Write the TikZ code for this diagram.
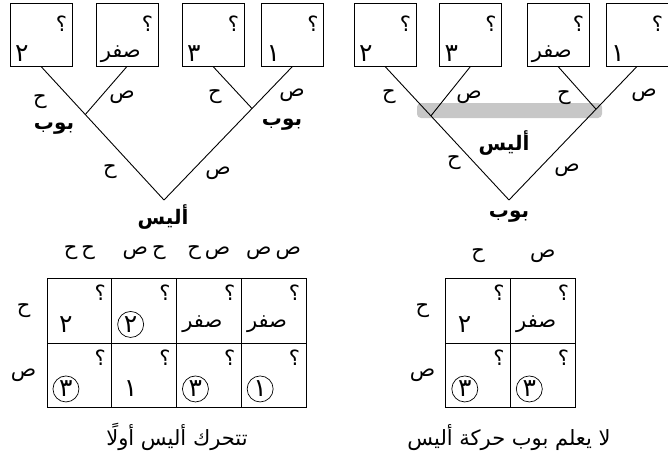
\documentclass[tikz,border=0pt]{standalone}
\usepackage{fontspec}
\usetikzlibrary{positioning,calc}
\TeXXeTstate=1
\newfontfamily\arabicfont[Script=Arabic]{DejaVu Sans}
\newcommand{\artext}[1]{\beginR #1\endR}
\newcommand{\digit}[1]{{\fontsize{25}{28}\selectfont #1}}
\def\boxwid{62pt}
\def\boxhgt{63pt}
\def\cellwid{64.7pt}
\def\cellhgt{64.5pt}

\begin{document}
\begin{tikzpicture}[x=1pt, y=-1pt,
            every node/.style={font=\arabicfont\fontsize{21}{25}\selectfont},
            leaf/.style={%
                draw, line width=0.9pt, inner sep=0pt,%
                minimum width=\boxwid, minimum height=\boxhgt%
            },
            cell/.style={%
                draw, line width=0.9pt, inner sep=0pt,%
                minimum width=\cellwid, minimum height=\cellhgt%
            },
            qmark/.style={inner sep=0pt},
            tpay/.style={anchor=west, inner sep=0pt, minimum width=14pt},
            mpay/.style={anchor=west, inner sep=0pt, minimum width=26pt},
            circled/.style={anchor=west, circle, draw, line width=0.7pt,%
                inner sep=0pt, minimum size=26pt},
            move/.style={inner sep=1pt},
            player/.style={inner sep=1pt,%
                font=\arabicfont\bfseries\fontsize{20}{24}\selectfont},
            branch/.style={line width=0.9pt},
            infoset/.style={fill=black!22, draw=none, rounded corners=4pt}
        ]
        \useasboundingbox (0,0) rectangle (668,455);

        % Left tree: Alice moves first
        \node (L1) [leaf] at (41,34.5) {};
        \node (L2) [leaf] at (127,34.5) {};
        \node (L3) [leaf] at (213,34.5) {};
        \node (L4) [leaf] at (292.5,34.5) {};

        \coordinate (aliceroot) at (164,200);
        \path (aliceroot) -- (L1.south) coordinate[pos=0.64] (bobleft);
        \path (aliceroot) -- (L4.south) coordinate[pos=0.685] (bobright);

        \draw [branch] (aliceroot) -- (L1.south);
        \draw [branch] (aliceroot) -- (L4.south);
        \draw [branch] (bobleft) -- (L2.south);
        \draw [branch] (bobright) -- (L3.south);

        \node [tpay] at ([xshift=5pt,yshift=12.5pt]L1.south west) {\digit{٢}};
        \node [tpay] at ([xshift=5pt,yshift=12.5pt]L2.south west) {\artext{صفر}};
        \node [tpay] at ([xshift=5pt,yshift=12.5pt]L3.south west) {\digit{٣}};
        \node [tpay] at ([xshift=5pt,yshift=12.5pt]L4.south west) {\digit{١}};

        \node [move] at (40,102) {\artext{ح}};
        \node [move] at (122,97) {\artext{ص}};
        \node [move] at (215,97) {\artext{ح}};
        \node [move] at (292,95) {\artext{ص}};
        \node [move] at (110,172) {\artext{ح}};
        \node [move] at (218,173) {\artext{ص}};
        \node (bobL1) [player] at (54,129) {\artext{بوب}};
        \node (bobL2) [player] at (282,125) {\artext{بوب}};
        \node (alice1) [player] at (163,217) {\artext{أليس}};

        % Right tree: Bob moves first, Alice does not see it
        \fill [infoset] (417,103) rectangle (602,118);

        \node (R1) [leaf] at (385,34.5) {};
        \node (R2) [leaf] at (470.5,34.5) {};
        \node (R3) [leaf] at (558,34.5) {};
        \node (R4) [leaf] at (637,34.5) {};

        \coordinate (bobroot) at (509,200);
        \path (bobroot) -- (R1.south) coordinate[pos=0.63] (aliceleft);
        \path (bobroot) -- (R4.south) coordinate[pos=0.68] (aliceright);

        \draw [branch] (bobroot) -- (R1.south);
        \draw [branch] (bobroot) -- (R4.south);
        \draw [branch] (aliceleft) -- (R2.south);
        \draw [branch] (aliceright) -- (R3.south);

        \node [tpay] at ([xshift=5pt,yshift=12.5pt]R1.south west) {\digit{٢}};
        \node [tpay] at ([xshift=5pt,yshift=12.5pt]R2.south west) {\digit{٣}};
        \node [tpay] at ([xshift=5pt,yshift=12.5pt]R3.south west) {\artext{صفر}};
        \node [tpay] at ([xshift=5pt,yshift=12.5pt]R4.south west) {\digit{١}};

        \node [move] at (389,97) {\artext{ح}};
        \node [move] at (469,97) {\artext{ص}};
        \node [move] at (564,98) {\artext{ح}};
        \node [move] at (644,95) {\artext{ص}};
        \node [move] at (454,163) {\artext{ح}};
        \node [move] at (567,170) {\artext{ص}};
        \node (alice2) [player] at (504,143) {\artext{أليس}};
        \node (bob2) [player] at (509,217) {\artext{بوب}};

        % Left matrix
        \foreach \c/\x in {1/79.4,2/144.1,3/208.9,4/273.6} {
            \foreach \r/\y in {1/310.75,2/375.25} {
                \node (A\r\c) [cell] at (\x,\y) {};
            }
        }
        \node [move] at ([yshift=25pt]A11.north) {\artext{ح\hspace{4pt}ح}};
        \node [move] at ([yshift=25pt]A12.north) {\artext{ح\hspace{4pt}ص}};
        \node [move] at ([yshift=25pt]A13.north) {\artext{ص\hspace{4pt}ح}};
        \node [move] at ([yshift=25pt]A14.north) {\artext{ص\hspace{4pt}ص}};
        \node [move] at ([xshift=-23pt]A11.west) {\artext{ح}};
        \node [move] at ([xshift=-23pt]A21.west) {\artext{ص}};

        \node [mpay] at ([xshift=6pt,yshift=19pt]A11.south west) {\digit{٢}};
        \node [circled] at ([xshift=6pt,yshift=19pt]A12.south west) {\digit{٢}};
        \node [mpay] at ([xshift=6pt,yshift=19pt]A13.south west) {\artext{صفر}};
        \node [mpay] at ([xshift=6pt,yshift=19pt]A14.south west) {\artext{صفر}};
        \node [circled] at ([xshift=6pt,yshift=19pt]A21.south west) {\digit{٣}};
        \node [mpay] at ([xshift=6pt,yshift=19pt]A22.south west) {\digit{١}};
        \node [circled] at ([xshift=6pt,yshift=19pt]A23.south west) {\digit{٣}};
        \node [circled] at ([xshift=6pt,yshift=19pt]A24.south west) {\digit{١}};

        \node (caption1) [move] at (177,437) {\artext{تتحرك أليس أولًا}};

        % Right matrix
        \foreach \c/\x in {1/478.25,2/542.75} {
            \foreach \r/\y in {1/310.75,2/375.25} {
                \node (B\r\c) [cell] at (\x,\y) {};
            }
        }
        \node [move] at ([yshift=22pt]B11.north) {\artext{ح}};
        \node [move] at ([yshift=22pt]B12.north) {\artext{ص}};
        \node [move] at ([xshift=-23pt]B11.west) {\artext{ح}};
        \node [move] at ([xshift=-23pt]B21.west) {\artext{ص}};

        \node [mpay] at ([xshift=6pt,yshift=19pt]B11.south west) {\digit{٢}};
        \node [mpay] at ([xshift=6pt,yshift=19pt]B12.south west) {\artext{صفر}};
        \node [circled] at ([xshift=6pt,yshift=19pt]B21.south west) {\digit{٣}};
        \node [circled] at ([xshift=6pt,yshift=19pt]B22.south west) {\digit{٣}};

        \node (caption2) [move] at (509,438) {\artext{لا يعلم بوب حركة أليس}};

        % Question marks in every outcome
        \foreach \b in {L1,L2,L3,L4,R1,R2,R3,R4} {
            \node [qmark] at ([xshift=-11pt,yshift=-21pt]\b.north east) {؟};
        }
        \foreach \b in {A11,A12,A13,A14,A21,A22,A23,A24,B11,B12,B21,B22} {
            \node [qmark] at ([xshift=-12pt,yshift=-15pt]\b.north east) {؟};
        }

\end{tikzpicture}
\end{document}
